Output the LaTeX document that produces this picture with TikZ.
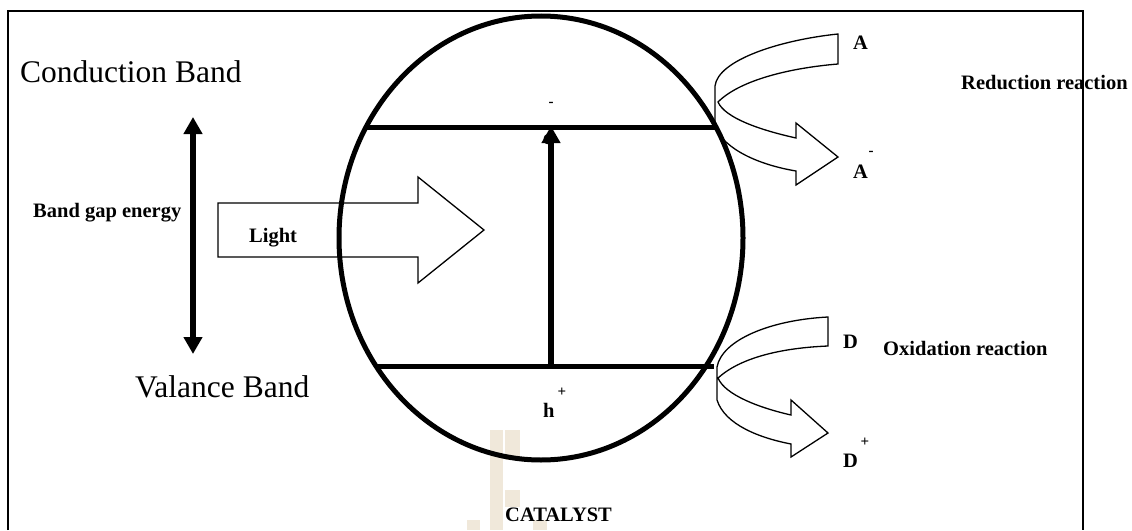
\documentclass[tikz,border=0pt]{standalone}
\usepackage{fontspec}
\setmainfont{Liberation Serif}
\usetikzlibrary{arrows.meta,shapes.geometric}
\definecolor{wmark}{RGB}{240,232,218}
\tikzset{
  frame/.style={line width=2.5pt},
  band/.style={line width=5pt},
  bigarrow/.style={line width=6pt,-{Triangle[width=18pt,length=17pt]}},
  blockarrow/.style={line width=1.3pt,line join=miter},
  biglabel/.style={font=\fontsize{31.5}{32}\selectfont,inner sep=0pt},
  smalllabel/.style={font=\fontsize{20.5}{21}\selectfont\bfseries,inner sep=0pt},
  suplabel/.style={font=\fontsize{15}{15}\selectfont\bfseries,inner sep=0pt},
}
\begin{document}
\begin{tikzpicture}[x=1pt,y=-1pt]
\useasboundingbox (0,0) rectangle (1132,530);
% faint watermark
\fill[wmark] (490,430) rectangle (503,530);
\fill[wmark] (505,430) rectangle (520,460);
\fill[wmark] (505,490) rectangle (520,507);
\fill[wmark] (467,520) rectangle (480,530);
\fill[wmark] (533,520) rectangle (547,530);
% frame (open at the bottom)
\draw[frame] (8,530) -- (8,11) -- (1083,11) -- (1083,530);
% light block arrow
\draw[blockarrow] (218,203) -- (418,203) -- (418,177) -- (484,230) -- (418,283) -- (418,257) -- (218,257) -- cycle;
% reduction ribbon
\draw[blockarrow,fill=white] (838,34) .. controls (780,40) and (718,60) .. (715,86) -- (715,127)
   .. controls (725,150) and (760,165) .. (796,171) -- (796,185) -- (838,157) -- (796,123) -- (796,138)
   .. controls (760,130) and (725,118) .. (718,102)
   .. controls (740,80) and (790,68) .. (838,64) -- cycle;
% oxidation ribbon
\draw[blockarrow,fill=white] (828,317) .. controls (770,320) and (722,340) .. (717,367) -- (717,400)
   .. controls (725,425) and (760,438) .. (791,444) -- (791,457) -- (828,433) -- (791,400) -- (791,415)
   .. controls (760,408) and (725,395) .. (718,378)
   .. controls (740,358) and (780,348) .. (828,346) -- cycle;
% catalyst particle
\node[draw,band,ellipse,minimum width=404pt,minimum height=444pt,inner sep=0pt] (cat) at (541,238) {};
\coordinate (cbL) at (366,127); \coordinate (cbR) at (716,127);
\coordinate (vbL) at (377,366); \coordinate (vbR) at (714,366);
\draw[band] (cbL) -- (cbR);
\draw[band] (vbL) -- (vbR);
% labels
\node[biglabel,anchor=base west] (cond) at (20,82) {Conduction Band};
\node[biglabel,anchor=base west] (val) at (135,397) {Valance Band};
\node[smalllabel,anchor=base west] (bge) at (33,217) {Band gap energy};
\node[smalllabel,anchor=base west] (light) at (249,242) {Light};
\node[smalllabel,anchor=base west] (e) at (543,144) {e};
\node[suplabel] (em) at (551,104) {-};
\node[smalllabel,anchor=base west] (h) at (543,417) {h};
\node[suplabel] (hp) at (562,392) {+};
\node[smalllabel,anchor=base west] (A) at (853,49) {A};
\node[smalllabel,anchor=base west] (Am) at (853,178) {A};
\node[suplabel] (Amm) at (871,153) {-};
\node[smalllabel,anchor=base west] (red) at (961,89) {Reduction reaction};
\node[smalllabel,anchor=base west] (D) at (843,348) {D};
\node[smalllabel,anchor=base west] (ox) at (883,355) {Oxidation reaction};
\node[smalllabel,anchor=base west] (Dp) at (843,467) {D};
\node[suplabel] (Dpp) at (865,442) {+};
\node[smalllabel,anchor=base west] (catl) at (505,521) {CATALYST};
% excitation arrow (covers the e)
\coordinate (exS) at (551,366); \coordinate (exE) at (551,126);
\draw[bigarrow] (exS) -- (exE);
% band gap arrow
\coordinate (bgT) at (193,117); \coordinate (bgB) at (193,354);
\draw[bigarrow,{Triangle[width=18pt,length=17pt]}-{Triangle[width=18pt,length=17pt]}] (bgT) -- (bgB);
\end{tikzpicture}
\end{document}
